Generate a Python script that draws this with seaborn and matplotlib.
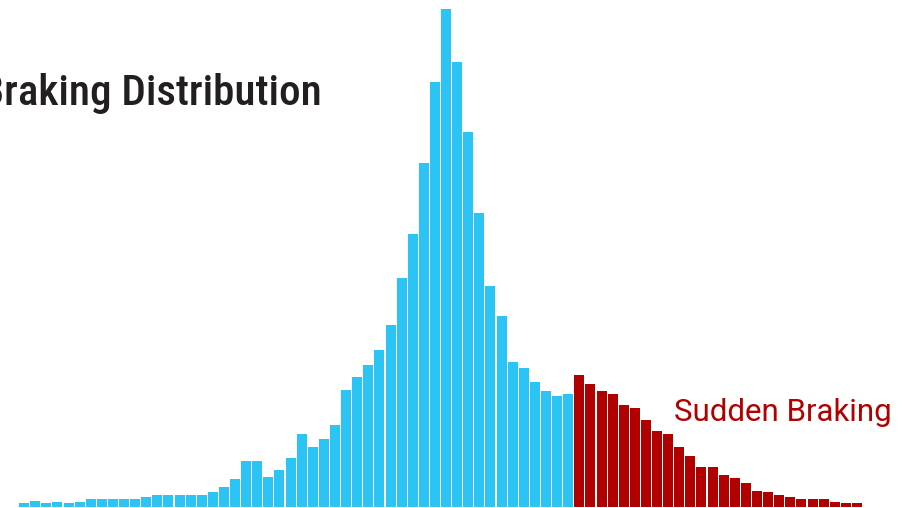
import numpy as np
import pandas as pd
import matplotlib
matplotlib.use("Agg")
import matplotlib.pyplot as plt
import seaborn as sns

# =====================================================================
# 1. DADOS (altura de cada barra)
# =====================================================================
normal_counts = [4, 6, 4, 5, 4, 5, 8, 8, 8, 8, 8, 10, 12, 12, 12, 12, 12, 15, 20, 28,
                 46, 46, 30, 37, 49, 73, 60, 68, 82, 117, 130, 142, 157, 182, 229, 273,
                 344, 425, 498, 445, 375, 294, 221, 191, 145, 139, 125, 116, 111, 113]
sudden_counts = [132, 123, 116, 113, 102, 99, 87, 76, 73, 60, 51, 40, 40, 32, 29, 24,
                 16, 15, 12, 10, 8, 8, 8, 5, 4, 4]

title_text = "Sudden Braking Distribution"
label_text = "Sudden Braking"

BLUE = "#2BC4F5"
RED = "#B00000"

counts = normal_counts + sudden_counts
groups = ["normal"] * len(normal_counts) + ["sudden"] * len(sudden_counts)
df = pd.DataFrame({"bin": np.arange(len(counts)), "count": counts, "group": groups})

# =====================================================================
# 2. GRAFICO
# =====================================================================
sns.set_style("white")

fig = plt.figure(figsize=(9.13, 5.08), dpi=100)
ax = fig.add_axes([0, 0, 1, 1])

sns.barplot(data=df, x="bin", y="count", hue="group",
            palette={"normal": BLUE, "sudden": RED},
            dodge=False, width=0.9, legend=False, saturation=1,
            linewidth=0, ax=ax)

# limites para posicionar as barras como na figura original
ax.set_xlim(-2.17, 80.05)
ax.set_ylim(-1, 507)
ax.axis("off")

# titulo (cortado a esquerda, como no original)
fig.text(322 / 913, 1 - 105 / 508, title_text, ha="right", va="baseline",
         fontsize=31, color="#231F20", fontweight="medium",
         family=["Roboto Condensed", "Roboto", "DejaVu Sans"])

# rotulo da cauda vermelha
fig.text(674 / 913, 1 - 421 / 508, label_text, ha="left", va="baseline",
         fontsize=22.5, color=RED, family=["Roboto", "DejaVu Sans"])

plt.savefig("out.png", dpi=100)
